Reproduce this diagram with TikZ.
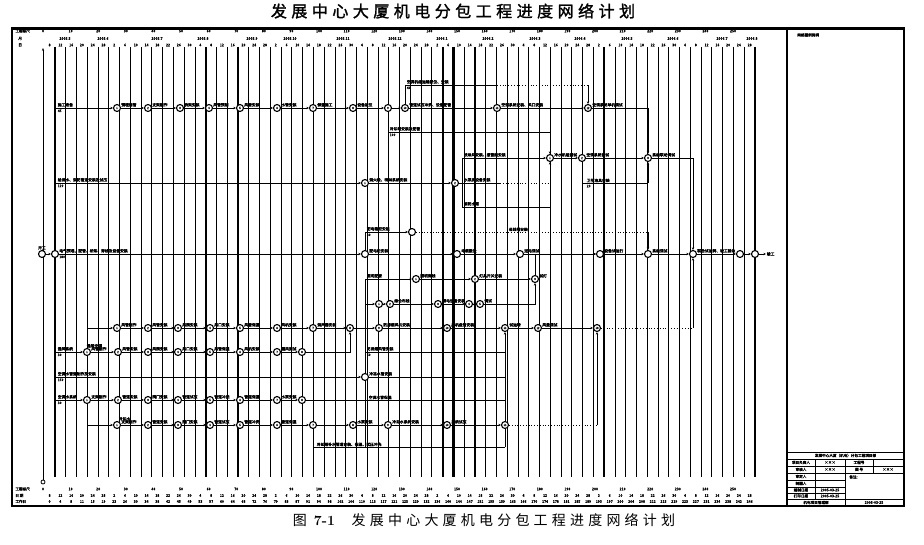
\documentclass[tikz,border=0pt]{standalone}
\usepackage{fontspec}
\newfontfamily\cjk{Noto Sans CJK SC}
\newfontfamily\cjkb{Noto Sans CJK SC}[FakeBold=2.5]
\newfontfamily\cjkwide{Noto Sans CJK SC}[LetterSpace=30]
\newfontfamily\cjktitle{Noto Sans CJK SC}[LetterSpace=28, FakeBold=1.5]
\usetikzlibrary{arrows.meta}

\begin{document}
\begin{tikzpicture}[x=1pt, y=-1pt, line width=0.8pt,
    ev/.style={circle, draw, fill=white, line width=1.1pt, inner sep=0pt,
      minimum size=7pt, font=\cjkb\fontsize{2.8}{3}\selectfont},
    arr/.style={-{Stealth[length=2.6pt,width=2.4pt]}},
    free/.style={dotted},
    lbl/.style={font=\cjkb\fontsize{3.8}{4}\selectfont, inner sep=0.4pt, anchor=south west},
    dur/.style={font=\cjkb\fontsize{3.4}{3.4}\selectfont, inner sep=0.4pt, anchor=north west},
    hd/.style={font=\cjkb\fontsize{3.6}{3.8}\selectfont, inner sep=0pt},
    tb/.style={font=\cjkb\fontsize{3.6}{3.8}\selectfont, inner sep=0pt},
    vline/.style={line width=1pt},
    vlinebold/.style={line width=2.2pt}]
  \useasboundingbox (0,0) rectangle (924,545);
  % title and caption
  \node[font=\cjktitle\fontsize{16}{16}\selectfont] (title) at (453,11) {发展中心大厦机电分包工程进度网络计划};
  \node[font=\cjk\fontsize{14}{14}\selectfont] (caption) at (484,520)
    {图\hspace{0.5em}{\rmfamily\bfseries 7-1}\hspace{1.2em}{\cjkwide 发展中心大厦机电分包工程进度网络计划}};
  % frame
  \draw[line width=2pt] (12,29) rectangle (904,506);
  \draw[line width=3pt] (11,29) -- (905,29);
  \draw[line width=1.2pt] (787,29) -- (787,506);
  \node[hd, anchor=west] (legend) at (797,35) {网络图例说明};
  % time scale rows
  \node[hd, anchor=west] at (15,31) {工程标尺};
  \node[hd, anchor=west] at (18,38.5) {月};
  \node[hd, anchor=west] at (18,45) {日};
  \node[hd, anchor=west] at (15,489) {工程标尺};
  \node[hd, anchor=west] at (15,495.5) {日\ 期};
  \node[hd, anchor=west] at (15,501.5) {工作日};
  \foreach \k in {0,...,25} {
    \pgfmathtruncatemacro\v{10*\k}
    \node[hd] at ({43+27.6*\k},31) {\v};
    \node[hd] at ({43+27.6*\k},489) {\v};
  }
  \foreach \x/\m in {65/2005.5, 103/2005.6, 157/2005.7, 203/2005.8, 252/2005.9, 290/2005.10,
      343/2005.11, 395/2005.12, 442/2006.1, 488/2006.2, 535/2006.3, 580/2006.4,
      627/2006.5, 673/2006.6, 722/2006.7, 752/2006.8}
    \node[hd] at (\x,38.5) {\m};
  \foreach \i in {0,...,65} {
    \pgfmathtruncatemacro\d{mod(4*\i+7,30)+1}
    \pgfmathtruncatemacro\w{round(3.78*\i)}
    \node[hd] at ({49.6+10.77*\i},45) {\d};
    \node[hd] at ({49.6+10.77*\i},495.5) {\d};
    \node[hd] at ({49.6+10.77*\i},501.5) {\w};
  }
  % grid
  \foreach \i in {0,...,65} \draw[vline] ({55+10.77*\i},47) -- ({55+10.77*\i},477);
  \foreach \i in {0,14,17,36,37,39,51,65} \draw[vlinebold] ({55+10.77*\i},47) -- ({55+10.77*\i},477);
  \node[circle, draw, inner sep=0pt, minimum size=4pt] (zero) at (43,482) {};
  \coordinate (axtop) at (43,48);
  \draw[vline, -{Stealth[length=3pt]}] (zero) -- (axtop);

  % ---- row A
  \coordinate (a0) at (56,108);
  \foreach \x [count=\i] in {117,148,180,209,240,277,313,353,388,405,497,588}
    \node[ev] (a\i) at (\x,108) {\i};
  \foreach \i [evaluate=\i as \j using int(\i-1)] in {1,...,12} \draw[arr] (a\j) -- (a\i);
  \node[lbl] at ([xshift=1pt,yshift=0.6pt]a0) {施工准备};
  \node[dur] at ([xshift=1pt,yshift=-0.8pt]a0) {45};
  \foreach \i/\t in {1/预埋套管, 2/支架制作, 3/桥架安装, 4/风管预制, 5/风管安装, 6/水管安装,
      7/保温施工, 8/设备就位, 10/管道试压冲洗、设备配管, 11/空调系统安装、风口安装}
    \node[lbl] at ([xshift=3.5pt,yshift=0.6pt]a\i) {\t};
  \coordinate (a10u) at (405,85);
  \coordinate (a11u) at (497,85);
  \coordinate (a12u) at (588,85);
  \draw (a10) -- (a10u) -- (a11u);
  \draw[free] (a11u) -- (a12u);
  \draw[arr] (a12u) -- (a12);
  \node[lbl] at ([xshift=1pt,yshift=0.6pt]a10u) {空调机组运输就位、安装};
  \node[dur] at ([xshift=1pt,yshift=-0.8pt]a10u) {40};
  \node[lbl] at ([xshift=3.5pt,yshift=0.6pt]a12) {空调系统单机调试};
  \coordinate (a12r) at (648,108);
  \draw (a12) -- (a12r);

  % ---- row B
  \coordinate (bq) at (388,132);
  \coordinate (bq2) at (550,132);
  \foreach \x [count=\i] in {550,582,648} \node[ev] (b\i) at (\x,158) {\i};
  \draw (a9) -- (bq) -- (bq2);
  \draw[arr] (bq2) -- (b1);
  \node[lbl] at ([xshift=1pt,yshift=0.6pt]bq) {冷却塔安装及配管};
  \node[dur] at ([xshift=1pt,yshift=-0.8pt]bq) {100};
  \draw[arr] (b1) -- (b2);
  \draw[arr] (b2) -- (b3);
  \draw[arr] (a12r) -- (b3);
  \foreach \i/\t in {1/冷水机组调试, 2/空调系统调试, 3/系统联动调试}
    \node[lbl] at ([xshift=3.5pt,yshift=0.6pt]b\i) {\t};
  \coordinate (b3r) at (693,158);

  % ---- row C
  \coordinate (c0) at (56,183);
  \node[ev] (c1) at (365,183) {1};
  \node[ev] (c2) at (455,183) {2};
  \draw[arr] (c0) -- (c1);
  \draw[arr] (c1) -- (c2);
  \node[lbl] at ([xshift=1pt,yshift=0.6pt]c0) {给排水、消防管道安装及试压};
  \node[dur] at ([xshift=1pt,yshift=-0.8pt]c0) {120};
  \node[lbl] at ([xshift=3.5pt,yshift=0.6pt]c1) {消火栓、喷淋系统安装};
  \coordinate (cx1) at (462,158);
  \coordinate (cx2) at (462,183);
  \coordinate (cx3) at (462,207);
  \coordinate (cx2d) at (500,183);
  \coordinate (cx4) at (550,183);
  \coordinate (cx5) at (550,207);
  \draw (c2) -- (cx2);
  \draw (cx1) -- (cx3);
  \draw[arr] (cx1) -- (b1);
  \draw (cx2) -- (cx2d);
  \draw[free] (cx2d) -- (cx4);
  \draw (cx3) -- (cx5) -- (cx4);
  \draw[arr] (cx4) -- (b1);
  \node[lbl] at ([xshift=1pt,yshift=0.6pt]cx1) {喷淋头安装、报警阀安装};
  \node[lbl] at ([xshift=1pt,yshift=0.6pt]cx2) {水泵房设备安装};
  \node[lbl] at ([xshift=1pt,yshift=0.6pt]cx3) {消防水箱};
  \coordinate (cC) at (648,183);
  \draw (b2) |- (cC);
  \draw[arr] (cC) -- (b3);
  \node[lbl] at (586,183) {卫生洁具安装};
  \node[dur] at (586,184) {20};

  % ---- main row
  \foreach \n/\x in {s1/42, s2/55, m1/365, m2/457, m3/520, m4/600, m5/648, m6/693, m7/740, m8/755}
    \node[ev] (\n) at (\x,254) {};
  \foreach \p/\q in {s1/s2, s2/m1, m1/m2, m2/m3, m3/m4, m4/m5, m5/m6, m6/m7, m7/m8}
    \draw[arr] (\p) -- (\q);
  \node[lbl, anchor=south] at ([yshift=3.6pt]s1) {开工};
  \node[lbl] at ([xshift=3.5pt,yshift=0.6pt]s2) {电气预埋、配管、桥架、穿线及设备安装};
  \node[dur] at ([xshift=3.5pt,yshift=-0.8pt]s2) {180};
  \foreach \n/\t in {m1/配电柜安装, m2/电缆敷设, m3/送电调试, m4/设备试运行, m5/系统调试,
      m6/联合试运转、竣工验收}
    \node[lbl] at ([xshift=3.5pt,yshift=0.6pt]\n) {\t};
  \node[lbl, anchor=west] (fin) at (766,254) {竣工};
  \draw[arr] (m8) -- (fin);
  \draw[arr] (b3) -- (b3r) -- (m6);

  % ---- row D
  \coordinate (d0) at (365,232);
  \node[ev] (d1) at (412,232) {};
  \coordinate (d3) at (648,232);
  \draw (m1) -- (d0);
  \draw[arr] (d0) -- (d1);
  \draw[free] (d1) -- (d3);
  \draw[arr] (d3) -- (m5);
  \node[lbl] at ([xshift=1pt,yshift=0.6pt]d0) {配电箱柜安装};
  \node[dur] at ([xshift=1pt,yshift=-0.8pt]d0) {30};
  \node[lbl] at (508,232) {母线槽安装};

  % ---- row E and F
  \coordinate (e0) at (365,279);
  \coordinate (f0) at (365,304);
  \foreach \x [count=\i] in {416,475,535} \node[ev] (e\i) at (\x,279) {\i};
  \foreach \x [count=\i] in {379,390,438,469,480} \node[ev] (f\i) at (\x,304) {\i};
  \draw[arr] (e0) -- (e1);
  \draw[arr] (e1) -- (e2);
  \draw[arr] (e2) -- (e3);
  \draw[arr] (e3) |- (m4);
  \draw[arr] (f0) -- (f1);
  \foreach \i [evaluate=\i as \j using int(\i-1)] in {2,...,5} \draw[arr] (f\j) -- (f\i);
  \draw[arr] (f5) -| (e3);
  \node[lbl] at ([xshift=1pt,yshift=0.6pt]e0) {照明配管};
  \foreach \i/\t in {1/照明穿线, 2/灯具开关安装, 3/试灯}
    \node[lbl] at ([xshift=3.5pt,yshift=0.6pt]e\i) {\t};
  \foreach \i/\t in {2/综合布线, 3/弱电设备安装, 5/调试}
    \node[lbl] at ([xshift=3.5pt,yshift=0.6pt]f\i) {\t};

  % ---- rows G and H
  \coordinate (h0) at (56,352);
  \foreach \x [count=\i] in {87,118,148,178,210,240,277,302} \node[ev] (h\i) at (\x,352) {\i};
  \foreach \x [count=\i] in {117,148,178,210,240,277,313,350,379,447,505,538,597}
    \node[ev] (g\i) at (\x,328) {\i};
  \draw[arr] (h0) -- (h1);
  \foreach \i [evaluate=\i as \j using int(\i-1)] in {2,...,8} \draw[arr] (h\j) -- (h\i);
  \draw[arr] (h1) |- (g1);
  \foreach \i [evaluate=\i as \j using int(\i-1)] in {2,...,13} \draw[arr] (g\j) -- (g\i);
  \draw[arr] (h8) -| (g8);
  \coordinate (gr) at (693,328);
  \draw[free] (g13) -- (gr);
  \draw[arr] (gr) -- (m6);
  \node[lbl] at ([xshift=1pt,yshift=0.6pt]h0) {通风系统};
  \node[dur] at ([xshift=1pt,yshift=-0.8pt]h0) {30};
  \foreach \i/\t in {1/风管制作, 2/风管安装, 3/风阀安装, 4/风口安装, 5/风管保温, 6/风机安装, 7/漏风测试}
    \node[lbl] at ([xshift=3.5pt,yshift=0.6pt]h\i) {\t};
  \foreach \i/\t in {1/风管制作, 2/风管安装, 3/风阀安装, 4/风口安装, 5/风管保温, 6/风机安装,
      7/消声器安装, 9/防排烟风机安装, 10/风机盘管安装, 11/试运转, 12/风量调试}
    \node[lbl] at ([xshift=3.5pt,yshift=0.6pt]g\i) {\t};
  \node[lbl] at ([xshift=-1pt,yshift=3.6pt]h1) {通风空调};

  % ---- box between the buses
  \coordinate (r1a) at (365,352);
  \coordinate (r1b) at (505,352);
  \coordinate (i0) at (56,377);
  \node[ev] (i1) at (365,377) {};
  \coordinate (i2) at (505,377);
  \coordinate (busb) at (365,447);
  \draw (r1a) -- (r1b);
  \draw[arr] (i0) -- (i1);
  \draw (i1) -- (i2);
  \draw (e0) -- (i1) -- (busb);
  \node[lbl] at ([xshift=1pt,yshift=0.6pt]r1a) {防排烟风管安装};
  \node[dur] at ([xshift=1pt,yshift=-0.8pt]r1a) {60};
  \node[lbl] at ([xshift=1pt,yshift=0.6pt]i0) {空调水管道制作及安装};
  \node[dur] at ([xshift=1pt,yshift=-0.8pt]i0) {150};
  \node[lbl] at ([xshift=3.5pt,yshift=0.6pt]i1) {冷冻水管安装};

  % ---- rows J, K and L
  \coordinate (j0) at (56,400);
  \foreach \x [count=\i] in {87,118,148,178,210,240,277,302} \node[ev] (j\i) at (\x,400) {\i};
  \foreach \x [count=\i] in {117,148,178,210,240,277,313,353,388,447,505} \node[ev] (k\i) at (\x,425) {\i};
  \coordinate (j9) at (505,400);
  \draw[arr] (j0) -- (j1);
  \foreach \i [evaluate=\i as \j using int(\i-1)] in {2,...,8} \draw[arr] (j\j) -- (j\i);
  \draw (j8) -- (j9);
  \draw[arr] (j1) |- (k1);
  \foreach \i [evaluate=\i as \j using int(\i-1)] in {2,...,11} \draw[arr] (k\j) -- (k\i);
  \coordinate (kr) at (597,425);
  \draw[free] (k11) -- (kr);
  \draw[arr] (kr) -- (g13);
  \coordinate (lr) at (505,447);
  \draw (k7) |- (lr);
  \draw (lr) -- (k11);
  \draw[arr] (k11) -- (g11);
  \node[lbl] at ([xshift=1pt,yshift=0.6pt]j0) {空调水系统};
  \node[dur] at ([xshift=1pt,yshift=-0.8pt]j0) {30};
  \foreach \i/\t in {1/支架制作, 2/管道安装, 3/阀门安装, 4/管道试压, 5/管道冲洗, 6/管道保温, 7/水泵安装}
    \node[lbl] at ([xshift=3.5pt,yshift=0.6pt]j\i) {\t};
  \node[lbl] at (368,400) {空调水管保温};
  \foreach \i/\t in {1/支架制作, 2/管道安装, 3/阀门安装, 4/管道试压, 5/管道冲洗, 6/管道保温,
      8/水泵安装, 9/冷却水系统安装, 10/系统试压}
    \node[lbl] at ([xshift=3.5pt,yshift=0.6pt]k\i) {\t};
  \node[lbl] at ([xshift=1pt,yshift=3.6pt]k1) {冷却水};
  \node[lbl] at (316,447) {冷却塔补水管道安装、保温、试压冲洗};

  % ---- title block
  \draw (787,452) -- (904,452);
  \foreach \y in {459,466,473,499} \draw (787,\y) -- (904,\y);
  \foreach \y in {480,487,493} \draw (787,\y) -- (845,\y);
  \draw (815,459) -- (815,499);
  \draw (845,459) -- (845,506);
  \draw (873,459) -- (873,473);
  \node[tb] at (845.5,455.5) {发展中心大厦（机电）分包工程项目部};
  \foreach \y/\t in {462.5/项目负责人, 469.5/审核人, 476.5/审定人, 483.5/制图人, 490/编制日期, 496/打印日期}
    \node[tb] at (801,\y) {\t};
  \node[tb] at (830,462.5) {×××};
  \node[tb] at (830,469.5) {×××};
  \node[tb] at (830,490) {2005-03-25};
  \node[tb] at (830,496) {2005-03-25};
  \node[tb] at (859,462.5) {工程号};
  \node[tb] at (859,469.5) {图\ 号};
  \node[tb] at (888,469.5) {×××};
  \node[tb, anchor=west] at (849,477) {备注:};
  \node[tb] at (816,502.5) {机电项目管理部};
  \node[tb] at (874,502.5) {2005-03-25};
\end{tikzpicture}
\end{document}
